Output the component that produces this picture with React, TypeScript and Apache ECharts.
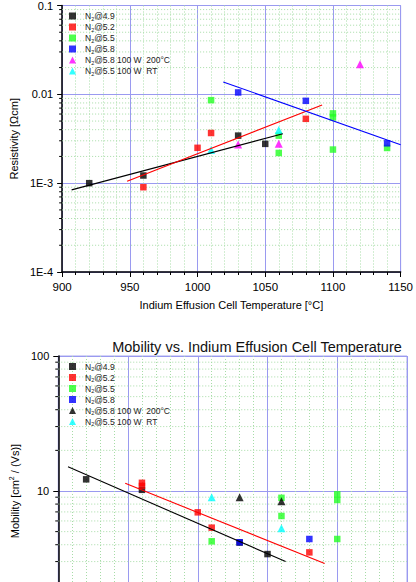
import React, { useEffect, useRef } from "react";
import * as echarts from "echarts";

// ---------- data ----------
const seriesNames = ["N2@4.9", "N2@5.2", "N2@5.5", "N2@5.8", "N2@5.8 100 W  200°C", "N2@5.5 100 W  RT"];

// Resistivity [Ωcm] vs temperature [°C]
const resN49 = [[920, 0.001], [960, 0.00122], [1030, 0.00343], [1050, 0.00277]];
const resN52 = [[960, 0.0009], [1000, 0.0025], [1010, 0.00367], [1080, 0.0053]];
const resN55 = [[1010, 0.0086], [1060, 0.00343], [1060, 0.00219], [1100, 0.0061], [1100, 0.0055], [1100, 0.00239], [1140, 0.00249]];
const resN58 = [[1030, 0.0105], [1080, 0.00845], [1140, 0.00281]];
const res200 = [[1030, 0.00272], [1060, 0.00277], [1120, 0.0218]];
const resRT = [[1010, 0.00237], [1060, 0.00397]];
const resFitBlack = [[907, 0.00084], [1063, 0.0036]];
const resFitRed = [[948, 0.00105], [1092, 0.0076]];
const resFitBlue = [[1019, 0.0138], [1150, 0.0027]];

// Mobility [cm²/(Vs)] vs temperature [°C]
const mobN49 = [[920, 12.2], [960, 10.2], [1030, 4.15], [1050, 3.41]];
const mobN52 = [[960, 11.5], [960, 10.9], [1000, 6.95], [1010, 5.35], [1080, 3.51]];
const mobN55 = [[1010, 4.24], [1060, 8.9], [1060, 6.53], [1100, 9.45], [1100, 8.58], [1100, 4.41]];
const mobN58 = [[1030, 4.17], [1080, 4.41]];
const mob200 = [[1030, 8.98], [1060, 8.39]];
const mobRT = [[1010, 8.98], [1060, 5.29]];
const mobFitBlack = [[907, 15.1], [1063, 3.0]];
const mobFitRed = [[948, 11.4], [1091, 2.9]];

// axis ticks
const xTicks = [900, 950, 1000, 1050, 1100, 1150];
const resMinorTicks = [
  0.0002, 0.0003, 0.0004, 0.0005, 0.0006, 0.0007, 0.0008, 0.0009,
  0.002, 0.003, 0.004, 0.005, 0.006, 0.007, 0.008, 0.009,
  0.02, 0.03, 0.04, 0.05, 0.06, 0.07, 0.08, 0.09,
];
const mobMinorTicks = [2, 3, 4, 5, 6, 7, 8, 9, 20, 30, 40, 50, 60, 70, 80, 90];

const FONT = "'Liberation Sans', Arial, sans-serif";

export default function App() {
  const ref = useRef<HTMLDivElement>(null);
  useEffect(() => {
    if (!ref.current) return;
    const chart = echarts.init(ref.current, null, { renderer: "svg" });

    const GRID_MAJOR = "#9a9af0";
    const GRID_MINOR = "#a6dca6";
    const majorGrid = { show: true, lineStyle: { color: GRID_MAJOR, width: 1 } };
    const minorGrid = { show: true, lineStyle: { color: GRID_MINOR, width: 1, type: [1, 2] as any } };
    const axisLine = { show: true, onZero: false, lineStyle: { color: "#000", width: 1.5 } };
    const xMin = xTicks[0];
    const xMax = xTicks[xTicks.length - 1];

    const xAxisBase = (gi: number, showLabels: boolean) => ({
      type: "value",
      gridIndex: gi,
      min: xMin,
      max: xMax,
      interval: 50,
      axisLine,
      axisTick: { show: true, length: 5, lineStyle: { color: "#000" } },
      minorTick: { show: true, splitNumber: 5, length: 3, lineStyle: { color: "#000" } },
      splitLine: majorGrid,
      minorSplitLine: minorGrid,
      axisLabel: {
        show: showLabels,
        color: "#000",
        fontSize: 11.5,
        fontFamily: FONT,
        margin: 9,
        formatter: (v: number) => String(v),
      },
    });

    const legendFormatter = (name: string) => {
      const n = name.split("|")[1];
      return "N{s|2}" + n.slice(2);
    };
    const legendBase = (top: number, names: string[]) => ({
      orient: "vertical",
      left: 64,
      top,
      itemWidth: 7,
      itemHeight: 7,
      itemGap: 0,
      data: names,
      formatter: legendFormatter,
      textStyle: {
        fontSize: 8.5,
        fontFamily: FONT,
        color: "#222",
        lineHeight: 11,
        padding: [0, 0, 0, 4],
        rich: { s: { fontSize: 5.5, fontFamily: FONT, color: "#222", lineHeight: 11, padding: [5, 0, 0, 0] } },
      },
    });

    const scatter = (name: string, data: number[][], color: string, symbol: string, gi: number) => ({
      type: "scatter",
      name,
      data,
      xAxisIndex: gi,
      yAxisIndex: gi,
      symbol,
      symbolSize: symbol === "triangle" ? 8 : 6.5,
      itemStyle: { color },
      z: 3,
    });
    const fit = (data: number[][], color: string, gi: number) => ({
      type: "line",
      data,
      xAxisIndex: gi,
      yAxisIndex: gi,
      showSymbol: false,
      symbol: "none",
      lineStyle: { color, width: 1.1 },
      silent: true,
      z: 4,
    });
    // log minor ticks + dotted minor grid lines, positioned by the log axis
    const minorY = (values: number[], gi: number) => ({
      type: "custom",
      xAxisIndex: gi,
      yAxisIndex: gi,
      silent: true,
      clip: false,
      z: 1,
      data: values.map((v) => [xMin, v]),
      encode: { x: 0, y: 1 },
      renderItem: (_params: any, api: any) => {
        const v = api.value(1);
        const p = api.coord([xMin, v]);
        const q = api.coord([xMax, v]);
        return {
          type: "group",
          children: [
            {
              type: "line",
              shape: { x1: p[0], y1: p[1], x2: q[0], y2: q[1] },
              style: { stroke: GRID_MINOR, lineWidth: 1, lineDash: [1, 2] },
            },
            {
              type: "line",
              shape: { x1: p[0] - 3, y1: p[1], x2: p[0], y2: p[1] },
              style: { stroke: "#000", lineWidth: 1 },
            },
          ],
        };
      },
    });

    const topNames = seriesNames.map((n) => "a|" + n);
    const botNames = seriesNames.map((n) => "b|" + n);

    chart.setOption({
      animation: false,
      backgroundColor: "#fff",
      title: {
        text: "Mobility vs. Indium Effusion Cell Temperature",
        left: 252,
        top: 334,
        textAlign: "center",
        textStyle: { fontSize: 14.5, fontWeight: "normal", color: "#111", fontFamily: FONT },
      },
      grid: [
        { left: 56, top: 4, width: 351, height: 268, show: true, borderColor: "#a8a8ee", borderWidth: 1, backgroundColor: "transparent" },
        { left: 53, top: 356, width: 354, height: 270, show: true, borderColor: "#a8a8ee", borderWidth: 1, backgroundColor: "transparent" },
      ],
      legend: [legendBase(5.5, topNames), legendBase(356, botNames)],
      xAxis: [
        {
          ...xAxisBase(0, true),
          name: "Indium Effusion Cell Temperature [°C]",
          nameLocation: "middle",
          nameGap: 27,
          nameTextStyle: { fontSize: 11, color: "#000", fontFamily: FONT },
        },
        xAxisBase(1, false),
      ],
      yAxis: [
        {
          type: "log",
          gridIndex: 0,
          logBase: 10,
          min: 0.0001,
          max: 0.1,
          axisLine,
          axisTick: { show: true, length: 5, lineStyle: { color: "#000" } },
          splitLine: majorGrid,
          axisLabel: {
            color: "#000",
            fontSize: 11,
            fontFamily: FONT,
            margin: 9,
            formatter: (v: number) => (v >= 0.0099 ? String(+v.toPrecision(3)) : "1E" + Math.round(Math.log10(v))),
          },
          name: "Resistivity [Ωcm]",
          nameLocation: "middle",
          nameGap: 42,
          nameTextStyle: { fontSize: 11, color: "#000", fontFamily: FONT },
        },
        {
          type: "log",
          gridIndex: 1,
          logBase: 10,
          min: 1,
          max: 100,
          axisLine,
          axisTick: { show: true, length: 5, lineStyle: { color: "#000" } },
          splitLine: majorGrid,
          axisLabel: {
            color: "#000",
            fontSize: 11,
            fontFamily: FONT,
            margin: 9,
            showMinLabel: false,
            formatter: (v: number) => String(Math.round(v)),
          },
          name: "Mobility [cm{sup|2} / (Vs)]",
          nameLocation: "middle",
          nameGap: 36,
          nameTextStyle: {
            fontSize: 11,
            color: "#000",
            fontFamily: FONT,
            rich: { sup: { fontSize: 7, color: "#000", fontFamily: FONT, padding: [0, 0, 6, 0] } },
          },
        },
      ],
      series: [
        minorY(resMinorTicks, 0),
        minorY(mobMinorTicks, 1),
        fit(resFitBlack, "#000", 0),
        fit(resFitRed, "#ff0000", 0),
        fit(resFitBlue, "#0000ff", 0),
        scatter(topNames[0], resN49, "#000000", "rect", 0),
        scatter(topNames[1], resN52, "#ff0000", "rect", 0),
        scatter(topNames[2], resN55, "#22ff22", "rect", 0),
        scatter(topNames[3], resN58, "#0000ff", "rect", 0),
        scatter(topNames[4], res200, "#ff00ff", "triangle", 0),
        scatter(topNames[5], resRT, "#00ffff", "triangle", 0),
        fit(mobFitBlack, "#000", 1),
        fit(mobFitRed, "#ff0000", 1),
        scatter(botNames[0], mobN49, "#000000", "rect", 1),
        scatter(botNames[1], mobN52, "#ff0000", "rect", 1),
        scatter(botNames[2], mobN55, "#22ff22", "rect", 1),
        scatter(botNames[3], mobN58, "#0000ff", "rect", 1),
        scatter(botNames[4], mob200, "#000000", "triangle", 1),
        scatter(botNames[5], mobRT, "#00ffff", "triangle", 1),
      ],
    });
    return () => chart.dispose();
  }, []);

  return (
    <div style={{ position: "absolute", left: 0, top: 0, width: 416, height: 582, overflow: "hidden", background: "#fff" }}>
      <div ref={ref} style={{ width: 416, height: 680 }} />
    </div>
  );
}
